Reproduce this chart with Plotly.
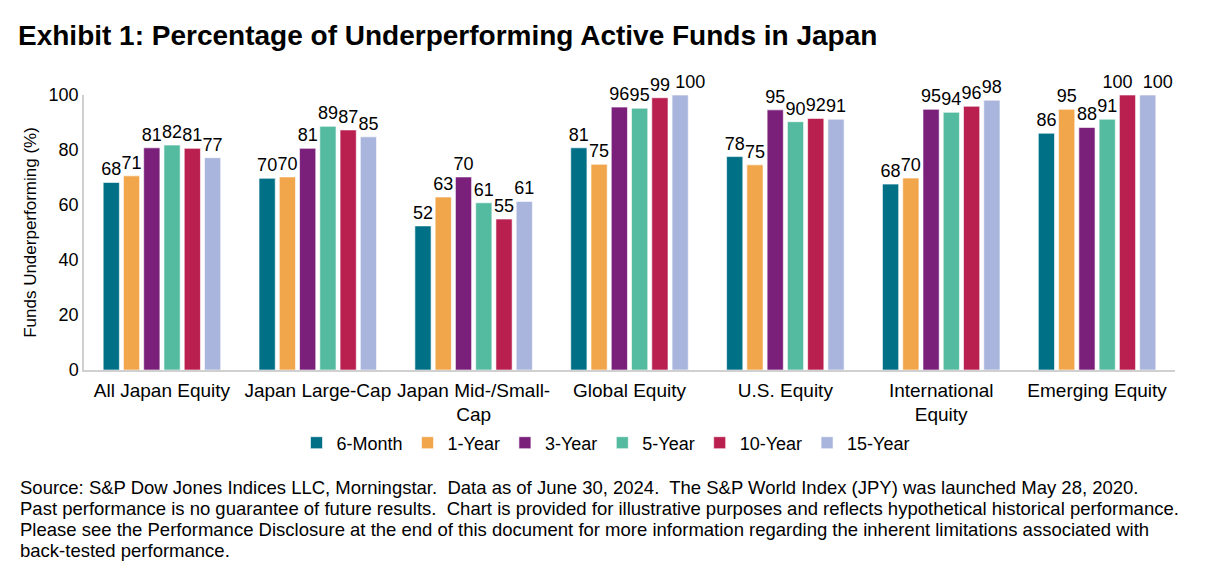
import plotly.graph_objects as go

categories = ["All Japan Equity", "Japan Large-Cap", "Japan Mid-/Small-<br>Cap",
              "Global Equity", "U.S. Equity", "International<br>Equity", "Emerging Equity"]
series_names = ["6-Month", "1-Year", "3-Year", "5-Year", "10-Year", "15-Year"]
six_month = [68.2, 69.7, 52.4, 80.8, 77.6, 67.6, 86.1]
one_year = [70.6, 70.2, 62.9, 74.8, 74.6, 69.8, 94.8]
three_year = [80.8, 80.6, 70.2, 95.6, 94.6, 94.8, 88.2]
five_year = [81.8, 88.6, 60.8, 95.2, 90.3, 93.7, 91.2]
ten_year = [80.6, 87.3, 54.9, 99.0, 91.5, 95.9, 100.0]
fifteen_year = [77.2, 84.8, 61.3, 100.0, 91.2, 98.1, 100.0]
colors = ["#007087", "#F2A64B", "#7A1F7A", "#55BBA0", "#B92050", "#A9B5DD"]

footnote_lines = [
    "Source: S&P Dow Jones Indices LLC, Morningstar.  Data as of June 30, 2024.  The S&P World Index (JPY) was launched May 28, 2020.",
    "Past performance is no guarantee of future results.  Chart is provided for illustrative purposes and reflects hypothetical historical performance.",
    "Please see the Performance Disclosure at the end of this document for more information regarding the inherent limitations associated with",
    "back-tested performance.",
]

all_series = [six_month, one_year, three_year, five_year, ten_year, fifteen_year]
FONT = "Liberation Sans, Arial"
NB = "\u00a0"

def label_text(si, ci, v):
    t = f"{v:.0f}"
    # nudge crowded neighbouring labels apart (as the original chart does)
    if si == 4 and ci == 6:
        t = t + NB * 4
    if si == 5 and ci in (3, 6):
        t = NB * 4 + t
    return t

fig = go.Figure()
for si, (name, vals, col) in enumerate(zip(series_names, all_series, colors)):
    fig.add_trace(go.Bar(
        x=categories, y=vals, name=name,
        marker=dict(color=col, line=dict(color="rgba(255,255,255,0.6)", width=1)),
        text=[label_text(si, ci, v) for ci, v in enumerate(vals)], textposition="outside",
        constraintext="none",
        textfont=dict(family=FONT, size=18, color="#000"),
        cliponaxis=False,
    ))

# page body has an 8px margin; figure coordinates below are screen minus 8
W, H = 1213, 563
ml, mr, mt, mb = 76, 46, 87, 201
plot_h = H - mt - mb
plot_w = W - ml - mr
fig.update_layout(
    width=W, height=H,
    paper_bgcolor="white", plot_bgcolor="white",
    margin=dict(l=ml, r=mr, t=mt, b=mb),
    barmode="group", bargap=0.22, bargroupgap=0.2,
    font=dict(family=FONT, size=18, color="#000"),
    title=dict(text="<b>Exhibit 1: Percentage of Underperforming Active Funds in Japan</b>",
               x=10 / W, xanchor="left", y=1 - 27 / H, yanchor="middle", yref="container",
               font=dict(size=28, color="#000")),
    showlegend=True,
    legend=dict(orientation="h", x=0.478, xanchor="center", y=-(443 - 370) / plot_h,
                yanchor="middle", font=dict(size=18), itemwidth=30, traceorder="normal"),
)
fig.update_yaxes(range=[0, 100], dtick=20, showgrid=False, showline=True,
                 linecolor="#D0D0D0", linewidth=1.5, ticks="", zeroline=False,
                 automargin=False, tickfont=dict(size=18),
                 title=dict(text="Funds Underperforming (%)", font=dict(size=17), standoff=8))
fig.update_xaxes(showline=True, linecolor="#D0D0D0", linewidth=1.5, ticks="",
                 automargin=False, tickfont=dict(size=19), ticklabelstandoff=2)

for i, line in enumerate(footnote_lines):
    yc = 479 + i * 21.3
    fig.add_annotation(text=line, xref="paper", yref="paper",
                       x=(10 - ml) / plot_w, y=-(yc - (H - mb)) / plot_h,
                       xanchor="left", yanchor="middle", align="left", showarrow=False,
                       font=dict(size=18.5, color="#000", family=FONT))

fig.write_html("out.html")
